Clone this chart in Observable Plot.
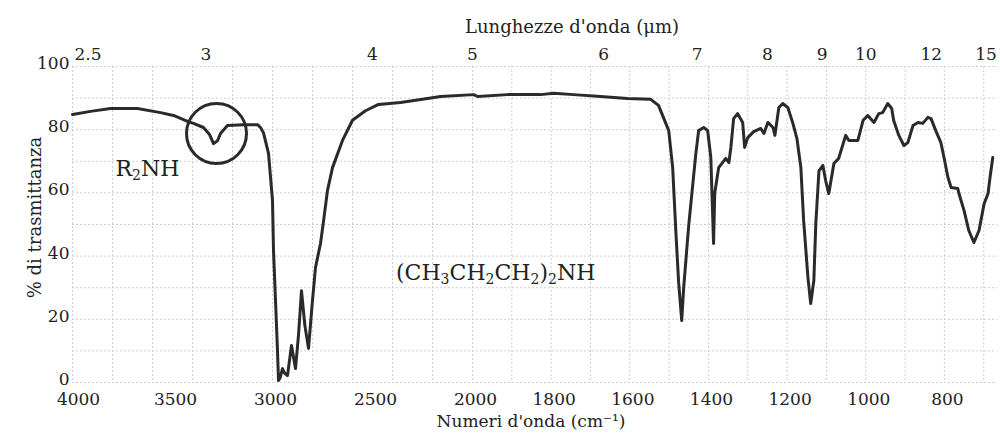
<!DOCTYPE html>
<html>
<head>
<meta charset="utf-8">
<script src="https://cdn.jsdelivr.net/npm/d3@7"></script>
<script src="https://cdn.jsdelivr.net/npm/@observablehq/plot@0.6"></script>
<style>
  html, body { margin: 0; padding: 0; background: #fff; }
  #chart { width: 1000px; height: 436px; }
</style>
</head>
<body>
<div id="chart"></div>
<script>
// Wavenumbers (cm^-1) of the traced spectrum
const wavenumber = [
  4000, 3910, 3810, 3675, 3560, 3495, 3425, 3395, 3345, 3315, 3295, 3275, 3260, 3225, 3145, 3075,
  3060, 3045, 3020, 3000, 2995, 2985, 2975, 2970, 2962, 2950, 2940, 2925, 2905, 2885, 2870, 2855,
  2838, 2820, 2800, 2785, 2760, 2745, 2725, 2700, 2650, 2600, 2535, 2470, 2360, 2225, 2160, 1997,
  1987, 1911, 1827, 1794, 1743, 1674, 1606, 1547, 1527, 1501, 1491, 1483, 1476, 1468, 1463, 1450,
  1432, 1425, 1412, 1402, 1394, 1387, 1384, 1374, 1356, 1348, 1343, 1336, 1326, 1313, 1308, 1300,
  1285, 1267, 1259, 1249, 1236, 1231, 1221, 1211, 1198, 1186, 1175, 1165, 1158, 1147, 1140, 1132,
  1127, 1119, 1109, 1102, 1094, 1081, 1069, 1051, 1043, 1020, 1007, 995, 979, 967, 957, 944,
  934, 929, 916, 903, 893, 880, 867, 855, 842, 834, 822, 809, 801, 791, 783, 766,
  763, 750, 738, 725, 712, 699, 689, 684, 677
];
// % transmittance at those wavenumbers
const transmittance = [
  84.8, 85.8, 86.7, 86.7, 85.4, 84.5, 82.6, 82.0, 80.7, 78.5, 75.6, 76.5, 78.8, 81.3, 81.6, 81.6,
  80.7, 79.0, 72.5, 57.6, 41.8, 26, 10, 0.6, 1.5, 4.4, 3, 2.2, 11.7, 4.4, 15, 29,
  18, 10.8, 26, 36.4, 44, 51, 60.8, 68, 76.6, 83, 86, 88, 88.6, 89.9, 90.5, 91.1,
  90.5, 91.1, 91.1, 91.5, 91.1, 90.5, 89.9, 89.6, 87.7, 79.7, 68, 48, 32, 19.6, 30, 50,
  72.5, 79.7, 80.7, 79.7, 71.2, 44, 60, 68, 70.9, 69.6, 74.4, 83.5, 85.1, 82.3, 74.4, 77.5,
  79.4, 80.4, 78.8, 82.3, 80.7, 78.2, 87, 88.3, 87, 82.3, 77.2, 68, 51.3, 33.2, 25, 32.3,
  50.3, 67, 68.7, 63.9, 59.8, 69.3, 70.9, 78.2, 76.6, 76.6, 82.9, 84.5, 82.3, 85.1, 85.4, 88.3,
  86.7, 82.9, 78.2, 75, 75.9, 81.3, 82.3, 82, 83.9, 83.5, 79.7, 75.9, 71.2, 64.9, 61.7, 61.4,
  59.8, 54.4, 48.1, 44.3, 48.1, 56.6, 59.8, 64.9, 71.2
];

// Axis ticks and labels
const bottomTicks = [4000, 3500, 3000, 2500, 2000, 1800, 1600, 1400, 1200, 1000, 800];
const yTicks = [0, 20, 40, 60, 80, 100];
const micronLabels = ["2.5", "3", "4", "5", "6", "7", "8", "9", "10", "12", "15"];
const gridXUpper = [4000, 3800, 3600, 3400, 3200, 3000, 2800, 2600, 2400, 2200, 2000];
const gridXLower = [1900, 1800, 1700, 1600, 1500, 1400, 1300, 1200, 1100, 1000, 900, 800, 700];
const gridY = [0, 10, 20, 30, 40, 50, 60, 70, 80, 90, 100];

// Texts
const topTitle = "Lunghezze d'onda (\u03bcm)";
const bottomTitle = "Numeri d'onda (cm\u207b\u00b9)";
const yTitle = "% di trasmittanza";
const annotationText = ["R\u2082NH", "(CH\u2083CH\u2082CH\u2082)\u2082NH"];
const annotationX = [3625, 1941];
const annotationY = [67.7, 34.8];
// highlighted N-H band (circle)
const circleX = [3280];
const circleY = [78.8];

const spectrum = wavenumber.map((w, i) => ({w, t: transmittance[i]}));
const micronWn = micronLabels.map(m => 1e4 / +m);
const wnToMicron = new Map(micronWn.map((w, i) => [w, micronLabels[i]]));

const ink = "#2a2a2a";
const gridColor = "#cfcfcf";

const chart = Plot.plot({
  width: 1000,
  height: 436,
  marginLeft: 72,
  marginRight: 3,
  marginTop: 66,
  marginBottom: 54,
  style: {fontFamily: "'DejaVu Serif', serif", fontSize: "17px", color: "#222", background: "#fff"},
  x: {type: "linear", domain: [4000, 2000, 665], range: [72, 472, 997]},
  y: {domain: [0, 100]},
  marks: [
    Plot.ruleX(gridXUpper.concat(gridXLower), {stroke: gridColor, strokeWidth: 1, strokeDasharray: "2,2"}),
    Plot.ruleY(gridY, {stroke: gridColor, strokeWidth: 1, strokeDasharray: "2,2"}),
    Plot.axisY(yTicks, {tickSize: 0, tickPadding: 3, label: null, fontSize: 17, dy: -3}),
    Plot.axisX(bottomTicks.slice(0, 1), {anchor: "bottom", tickSize: 0, tickPadding: 10, label: null, fontSize: 17, dx: 6, tickFormat: d => String(d)}),
    Plot.axisX(bottomTicks.slice(1), {anchor: "bottom", tickSize: 0, tickPadding: 10, label: null, fontSize: 17, dx: 3, tickFormat: d => String(d)}),
    Plot.axisX(micronWn.slice(0, 1), {anchor: "top", tickSize: 0, tickPadding: 7, label: null, fontSize: 17, textAnchor: "start", dx: 2, tickFormat: d => wnToMicron.get(d)}),
    Plot.axisX(micronWn.slice(1, -1), {anchor: "top", tickSize: 0, tickPadding: 7, label: null, fontSize: 17, tickFormat: d => wnToMicron.get(d)}),
    Plot.axisX(micronWn.slice(-1), {anchor: "top", tickSize: 0, tickPadding: 7, label: null, fontSize: 17, textAnchor: "end", tickFormat: d => wnToMicron.get(d)}),
    Plot.text([topTitle], {frameAnchor: "top", dy: -46, dx: 37, fontSize: 18, fill: "#222"}),
    Plot.text([bottomTitle], {frameAnchor: "bottom", dy: 44, dx: -4, fontSize: 17, fill: "#222"}),
    Plot.text([yTitle], {frameAnchor: "left", textAnchor: "middle", rotate: -90, dx: -37, dy: -7, fontSize: 18, fill: "#222"}),
    Plot.line(spectrum, {x: "w", y: "t", stroke: ink, strokeWidth: 3, strokeLinejoin: "round", strokeLinecap: "round"}),
    Plot.dot(circleX.map((x, i) => ({x, y: circleY[i]})), {x: "x", y: "y", r: 30, stroke: ink, strokeWidth: 3, fill: "none"}),
    Plot.text(annotationText.map((t, i) => ({t, x: annotationX[i], y: annotationY[i]})), {x: "x", y: "y", text: "t", fontSize: 22, fill: "#222"})
  ]
});

// Render Unicode subscript digits as lowered, smaller tspans
const subMap = {"\u2080": "0", "\u2081": "1", "\u2082": "2", "\u2083": "3", "\u2084": "4"};
d3.select(chart).selectAll("text").filter(function () {
  return annotationText.includes(this.textContent);
}).each(function () {
  const s = this.textContent;
  const el = d3.select(this);
  el.text(null);
  const parts = [];
  for (const ch of s) {
    const sub = ch in subMap;
    const last = parts[parts.length - 1];
    if (last && last.sub === sub) last.t += sub ? subMap[ch] : ch;
    else parts.push({sub, t: sub ? subMap[ch] : ch});
  }
  for (const p of parts) {
    const ts = el.append("tspan").text(p.t);
    if (p.sub) ts.attr("font-size", 14).attr("baseline-shift", "-30%");
  }
});

document.getElementById("chart").appendChild(chart);
</script>
</body>
</html>
